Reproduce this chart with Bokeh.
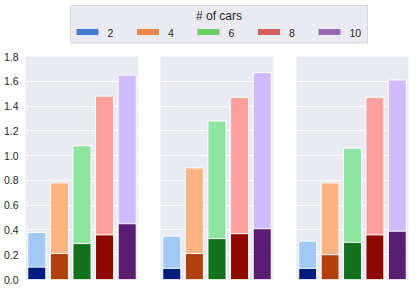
from bokeh.plotting import figure
from bokeh.layouts import column, row
from bokeh.models import (Range1d, FactorRange, SingleIntervalTicker,
                          PrintfTickFormatter, ColumnDataSource)
from bokeh.core.properties import value
from bokeh.embed import file_html
from bokeh.resources import INLINE

categories = ["2", "4", "6", "8", "10"]
total_1 = [0.38, 0.78, 1.08, 1.48, 1.65]
part_1 = [0.10, 0.21, 0.29, 0.36, 0.45]
total_2 = [0.35, 0.90, 1.28, 1.47, 1.67]
part_2 = [0.09, 0.21, 0.33, 0.37, 0.41]
total_3 = [0.31, 0.78, 1.06, 1.47, 1.61]
part_3 = [0.09, 0.20, 0.30, 0.36, 0.39]
light_colors = ["#a1c9f4", "#ffb482", "#8de5a1", "#ff9f9b", "#d0bbff"]
dark_colors = ["#001c7f", "#b1400d", "#12711c", "#8c0800", "#591e71"]
legend_colors = ["#4878d0", "#ee854a", "#6acc64", "#d65f5f", "#956cb4"]
legend_title = "# of cars"

FONT = "Liberation Sans"
TXT = "#262626"
BG = "#EAEAF2"


def panel(total, part, first, border_left, fw, border_right):
    p = figure(x_range=FactorRange(*categories, range_padding=0),
               y_range=Range1d(0, 1.8),
               frame_width=fw, frame_height=223,
               output_backend="svg", toolbar_location=None,
               min_border_left=border_left, min_border_right=border_right,
               min_border_top=8, min_border_bottom=12,
               background_fill_color=BG, border_fill_color="white",
               outline_line_color=None)
    src = ColumnDataSource(dict(x=categories, total=total, part=part,
                                light=light_colors, dark=dark_colors))
    p.vbar(x="x", top="total", width=0.8, fill_color="light",
           line_color="white", line_width=1, source=src)
    p.vbar(x="x", top="part", width=0.8, fill_color="dark",
           line_color="white", line_width=1, source=src)
    p.xaxis.visible = False
    p.xgrid.visible = False
    p.ygrid.ticker = SingleIntervalTicker(interval=0.2)
    p.ygrid.grid_line_color = "white"
    p.ygrid.grid_line_width = 1
    if first:
        ax = p.yaxis[0]
        ax.ticker = SingleIntervalTicker(interval=0.2)
        ax.formatter = PrintfTickFormatter(format="%.1f")
        ax.axis_line_color = None
        ax.major_tick_line_color = None
        ax.minor_tick_line_color = None
        ax.major_tick_out = 0
        ax.major_tick_in = 0
        ax.minor_tick_out = 0
        ax.minor_tick_in = 0
        ax.major_label_standoff = 7
        ax.major_label_text_font = FONT
        ax.major_label_text_font_size = "10.5px"
        ax.major_label_text_color = TXT
    else:
        p.yaxis.visible = False
    return p


p1 = panel(total_1, part_1, True, 23, 113, 0)
p2 = panel(total_2, part_2, False, 22, 113, 0)
p3 = panel(total_3, part_3, False, 23, 112, 7)

# legend strip
lg = figure(x_range=Range1d(0, 417), y_range=Range1d(48, 0),
            frame_width=417, frame_height=48,
            output_backend="svg", toolbar_location=None,
            min_border_left=0, min_border_right=0, min_border_top=0,
            min_border_bottom=0, outline_line_color=None,
            background_fill_color="white", border_fill_color="white")
lg.axis.visible = False
lg.grid.visible = False
lg.quad(left=[70], right=[367], top=[5], bottom=[42.5],
        fill_color=BG, line_color="#d6d6de", line_width=1)
lg.text(x=[218.5], y=[15.5], text=[legend_title], text_align="center",
        text_baseline="middle", text_font=value(FONT),
        text_font_size="12px", text_color=TXT)
sw_x = [76 + 60.5 * i for i in range(len(categories))]
lg.quad(left=sw_x, right=[x + 22 for x in sw_x], top=[28.5] * 5,
        bottom=[34.5] * 5, fill_color=legend_colors, line_color=None)
lg.text(x=[x + 31 for x in sw_x], y=[32] * 5, text=categories,
        text_align="left", text_baseline="middle", text_font=value(FONT),
        text_font_size="10.5px", text_color=TXT)

layout = column(lg, row(p1, p2, p3, spacing=0), spacing=0)

open("out.html", "w").write(file_html(layout, INLINE))
